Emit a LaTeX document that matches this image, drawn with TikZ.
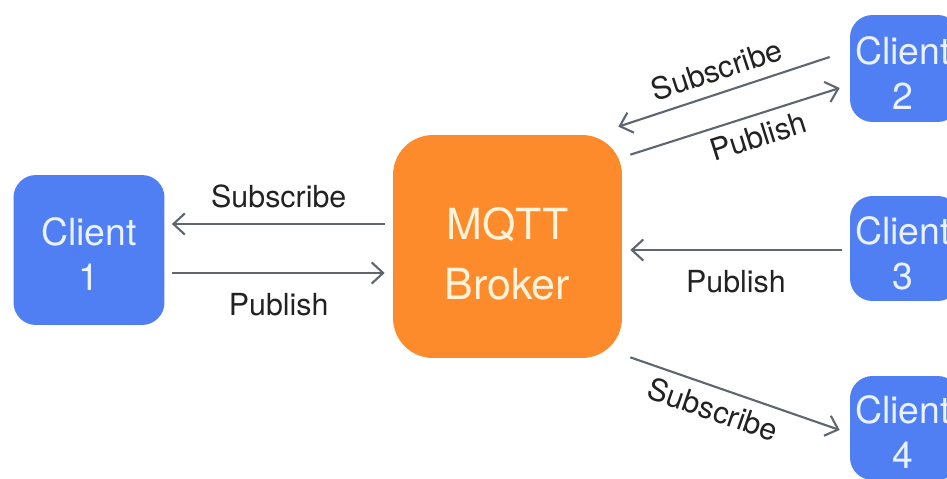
\documentclass[tikz,border=0pt]{standalone}
\usepackage{fontspec}
\setmainfont{TeX Gyre Heros}
\usetikzlibrary{arrows.meta,calc}
\definecolor{cblue}{HTML}{4F7FF2}
\definecolor{corange}{HTML}{FD8B2C}
\definecolor{cline}{HTML}{5E676F}
\definecolor{ctext}{HTML}{222222}
\definecolor{bText}{HTML}{FFF4DA}
\definecolor{cText}{HTML}{EAF1FF}
\begin{document}
\begin{tikzpicture}[x=0.02cm,y=-0.02cm,
  clientbox/.style={fill=cblue, rounded corners=0.45cm, inner sep=0pt, align=center,
    text=cText, font=\fontsize{21.3pt}{25.5pt}\selectfont},
  brokerbox/.style={fill=corange, rounded corners=0.8cm, inner sep=0pt, align=center,
    text=bText, font=\fontsize{24.4pt}{34pt}\selectfont,
    minimum width=4.58cm, minimum height=4.46cm},
  conn/.style={draw=cline, line width=1.2pt, -{Straight Barb[length=6.5pt,width=12pt]}},
  lbl/.style={text=ctext, font=\fontsize{17.3pt}{20pt}\selectfont, inner sep=0pt}]
\useasboundingbox (0,0) rectangle (947,478);
\clip (0,0) rectangle (947,478);
\fill[white] (0,0) rectangle (947,478);

\node[clientbox, minimum width=3.02cm, minimum height=3.0cm] (c1) at (89,250) {};
\node[text=cText, font=\fontsize{21.3pt}{25.5pt}\selectfont, align=center, inner sep=0pt] (c1t) at (89,254) {Client\\1};
\node[brokerbox] (broker) at (507.5,246.5) {};
\node[text=bText, font=\fontsize{24.4pt}{34pt}\selectfont, align=center, inner sep=0pt] (bt) at (507.5,254) {MQTT\\Broker};
\node[clientbox, minimum width=2.2cm, minimum height=2.14cm] (c2) at (905,68.5) {};
\node[text=cText, font=\fontsize{21.3pt}{25.5pt}\selectfont, align=center, inner sep=0pt] (c2t) at (903,73) {Client\\2};
\node[clientbox, minimum width=2.2cm, minimum height=2.1cm] (c3) at (905,248.5) {};
\node[text=cText, font=\fontsize{21.3pt}{25.5pt}\selectfont, align=center, inner sep=0pt] (c3t) at (903,253) {Client\\3};
\node[clientbox, minimum width=2.2cm, minimum height=2.08cm] (c4) at (905,428) {};
\node[text=cText, font=\fontsize{21.3pt}{25.5pt}\selectfont, align=center, inner sep=0pt] (c4t) at (903,432) {Client\\4};

% Client 1 <-> broker
\draw[conn, shorten <=8*0.02cm, shorten >=7*0.02cm] (broker.west |- 0,224) -- (c1.east |- 0,224)
  node[lbl, midway, above=15*0.02cm] (l1s) {Subscribe};
\draw[conn, shorten <=7*0.02cm, shorten >=8*0.02cm] (c1.east |- 0,273) -- (broker.west |- 0,273)
  node[lbl, midway, below=19*0.02cm] (l1p) {Publish};

% Client 3 -> broker
\draw[conn] ($(c3.west)+(-8,1.5)$) -- ($(broker.east)+(8,3.5)$)
  node[lbl, pos=0.5, below=19*0.02cm] (l3p) {Publish};

% Client 2 <-> broker
\draw[conn] ($(c2.west)+(-20,-11.5)$) -- ($(broker.north east)+(-4,-8)$)
  node[lbl, pos=0.5, sloped, above=11*0.02cm] (l2s) {Subscribe};
\draw[conn] ($(broker.north east)+(8,20)$) -- ($(c2.west)+(-10,19.5)$)
  node[lbl, pos=0.58, sloped, below=9*0.02cm] (l2p) {Publish};

% broker -> Client 4
\draw[conn] ($(broker.south east)+(8,-1)$) -- ($(c4.west)+(-10,2)$)
  node[lbl, pos=0.43, sloped, below=9*0.02cm] (l4s) {Subscribe};
\end{tikzpicture}
\end{document}
